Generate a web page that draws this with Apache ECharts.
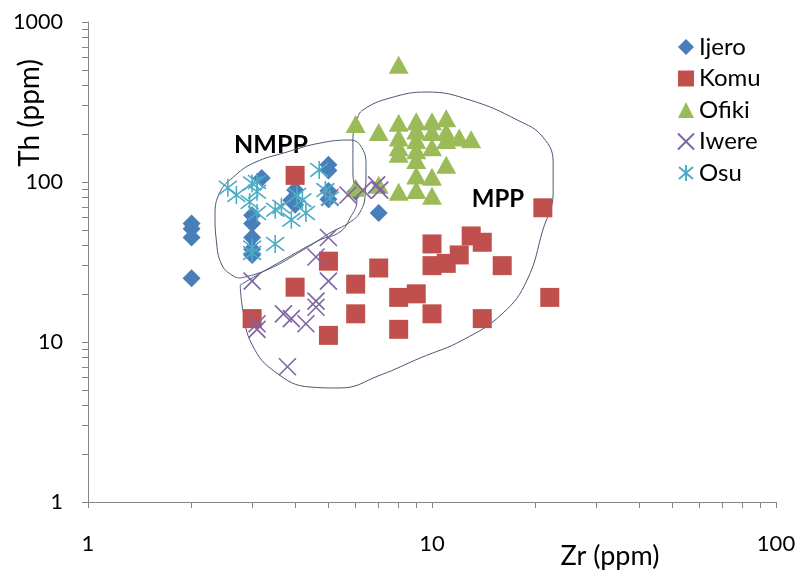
<!DOCTYPE html>
<html>
<head>
<meta charset="utf-8">
<script src="https://cdn.jsdelivr.net/npm/echarts@6/dist/echarts.min.js"></script>
<style>
  html, body { margin: 0; padding: 0; background: #fff; }
  #chart { width: 802px; height: 577px; }
</style>
</head>
<body>
<div id="chart"></div>
<script>
// Zr (ppm) vs Th (ppm) for five localities, [Zr, Th]
const ijero = [[2,55],[2,51],[2,45],[2,25],[3.2,106],[3,62],[3,55],[3,45],[3,38],[3,35],
  [4,89],[3.9,77],[4,72],[5,128],[5,118],[5,88],[5,78],[6,87],[7,64]];
const komu = [[4,110],[3,14],[4,22],[5,32],[5,11],[6,23],[6,15],[7,29],[8,19],[8,12],[9,20],
  [10,41],[10,30],[10,15],[11,31],[12,35],[13,46],[14,42],[14,14],[16,30],[21,69],[22,19]];
const ofiki = [[8,540],[6,230],[7,205],[8,235],[8,190],[8,165],[8,150],[9,240],[9,210],[9,183],
  [9,158],[9,137],[10,240],[10,205],[10,165],[11,250],[11,205],[11,183],[12,190],[13,185],
  [11,128],[9,110],[10,108],[9,89],[10,82],[8,87],[7,96],[6,92]];
const iwere = [[3,24],[5,45],[4.6,34],[5,24],[4.6,18],[4.6,16.5],[4.3,13],[3.9,14],[3.7,15],
  [3.1,13],[3.1,12],[3.8,7],[5.05,80],[5.7,83],[6.3,89],[6.9,96],[7.05,89]];
const osu = [[2.55,92],[2.7,83],[3,98],[3.1,87],[2.95,75],[3.1,64],[3,39],[3,36],[3.5,67],
  [3.65,70],[3.5,41],[3.9,58],[4.05,83],[4.2,77],[4.7,119],[4.9,89],[5.05,79],[4.3,64],[3.1,100]];

// Hand-drawn field outlines, [Zr, Th]
const nmppField = [[2.77,25.1],[3.31,28.2],[4.22,37.6],[5.05,48],[5.78,56.2],[6.18,64.9],
  [6.39,83],[6.43,124],[6.26,163],[5.78,183],[4.72,175],[3.79,154],[3.02,131],[2.64,107],
  [2.42,86.6],[2.34,62.2],[2.36,43.4],[2.45,30.3],[2.64,25.9],[2.77,25.1]];
const mppField = [[2.77,22.7],[3.61,31.6],[4.72,43.4],[5.4,48.7],[5.78,59.6],[6.05,77.2],
  [5.89,114],[5.89,183],[6.05,244],[6.3,282],[7.55,335],[9.67,365],[12.9,325],[17.7,244],
  [21.0,191],[22.5,131],[22.5,85.4],[21.0,50.1],[18.9,24.4],[16.1,15.2],[12.3,10.3],
  [9.23,7.94],[7.06,6.2],[5.4,5.16],[4.42,5.23],[3.5,6.5],[3.0,9.6],[2.82,15.8],[2.77,22.7]];

// Axis tick values (major + minor, log decades)
const xTicks = [1,2,3,4,5,6,7,8,9,10,20,30,40,50,60,70,80,90,100];
const yTicks = [1,2,3,4,5,6,7,8,9,10,20,30,40,50,60,70,80,90,100,200,300,400,500,600,700,800,900,1000];
const xLabels = [1,10,100];
const yLabels = [1,10,100,1000];

const FONT = 'Lato, "Open Sans", sans-serif';
const AXIS_GREY = '#868686';

const xMark = 'path://M0,0L10,10M10,0L0,10';
const starMark = 'path://M5,0L5,10M0.6,1.2L9.4,8.8M9.4,1.2L0.6,8.8';

function fieldSeries(name, data) {
  return {
    name, type: 'line', data, smooth: 0.45, symbol: 'none', silent: true, z: 1,
    lineStyle: { color: '#4a5874', width: 1 }
  };
}

const chart = echarts.init(document.getElementById('chart'), null, { renderer: 'canvas' });
chart.setOption({
  animation: false,
  backgroundColor: '#ffffff',
  grid: { left: 88, top: 22, width: 688, height: 480, containLabel: false },
  legend: {
    orient: 'vertical', left: 672, top: 30,
    itemWidth: 16, itemHeight: 16, itemGap: 7.5,
    data: ['Ijero', 'Komu', 'Ofiki', 'Iwere', 'Osu'],
    textStyle: { fontFamily: FONT, fontSize: 24, color: '#000' }
  },
  xAxis: {
    type: 'log', logBase: 10, min: 1, max: 100,
    axisLine: { show: true, lineStyle: { color: AXIS_GREY, width: 1 } },
    axisTick: { show: true, inside: false, length: 6, customValues: xTicks,
      lineStyle: { color: AXIS_GREY } },
    axisLabel: { customValues: xLabels, margin: 31, fontFamily: FONT, fontSize: 22, color: '#000',
      formatter: v => String(v) },
    splitLine: { show: false }
  },
  yAxis: {
    type: 'log', logBase: 10, min: 1, max: 1000,
    axisLine: { show: true, lineStyle: { color: AXIS_GREY, width: 1 } },
    axisTick: { show: true, inside: false, length: 6, customValues: yTicks,
      lineStyle: { color: AXIS_GREY } },
    axisLabel: { customValues: yLabels, margin: 25, fontFamily: FONT, fontSize: 21.5, color: '#000',
      formatter: v => String(v) },
    splitLine: { show: false }
  },
  graphic: [
    { type: 'text', x: 30, y: 113, rotation: Math.PI / 2,
      style: { text: 'Th (ppm)', align: 'center', verticalAlign: 'middle',
        font: '28px ' + FONT, fill: '#000' } },
    { type: 'text', x: 610, y: 556,
      style: { text: 'Zr (ppm)', align: 'center', verticalAlign: 'middle',
        font: '27px ' + FONT, fill: '#000' } },
    { type: 'text', x: 271, y: 145,
      style: { text: 'NMPP', align: 'center', verticalAlign: 'middle',
        font: 'bold 25px ' + FONT, fill: '#000' } },
    { type: 'text', x: 498, y: 199,
      style: { text: 'MPP', align: 'center', verticalAlign: 'middle',
        font: 'bold 24px ' + FONT, fill: '#000' } }
  ],
  series: [
    fieldSeries('NMPP field', nmppField),
    fieldSeries('MPP field', mppField),
    { name: 'Ijero', type: 'scatter', data: ijero, symbol: 'diamond', symbolSize: 18, z: 3,
      itemStyle: { color: '#4a7ebb', opacity: 1 } },
    { name: 'Komu', type: 'scatter', data: komu, symbol: 'rect', symbolSize: 19, z: 3,
      itemStyle: { color: '#c0504d', opacity: 1 } },
    { name: 'Ofiki', type: 'scatter', data: ofiki, symbol: 'triangle', symbolSize: [20, 18], z: 3,
      itemStyle: { color: '#9bbb59', opacity: 1 } },
    { name: 'Iwere', type: 'scatter', data: iwere, symbol: xMark, symbolSize: 17, z: 4,
      itemStyle: { color: 'rgba(0,0,0,0)', borderColor: '#8064a2', borderWidth: 1.6, opacity: 1 } },
    { name: 'Osu', type: 'scatter', data: osu, symbol: starMark, symbolSize: 18, z: 5,
      itemStyle: { color: 'rgba(0,0,0,0)', borderColor: '#4bacc6', borderWidth: 1.6, opacity: 1 } }
  ]
});
</script>
</body>
</html>
